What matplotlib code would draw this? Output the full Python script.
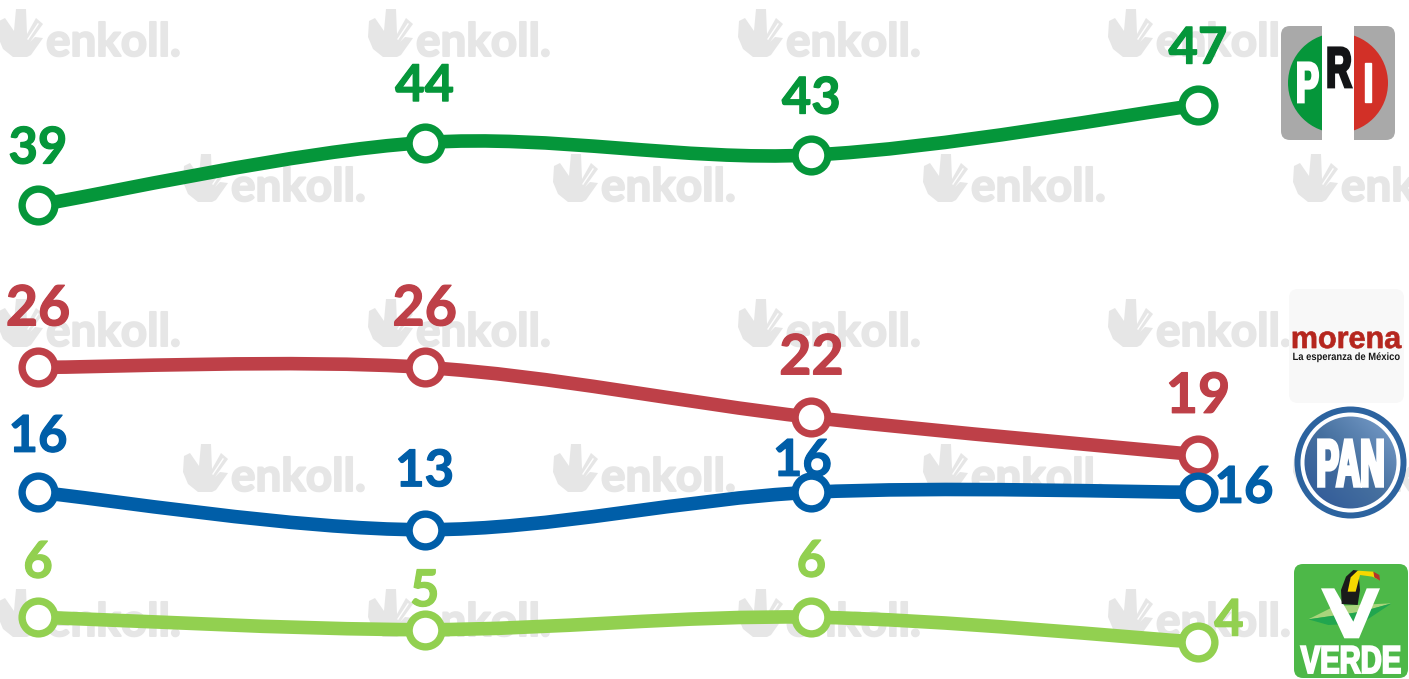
import matplotlib
matplotlib.use("Agg")
import numpy as np
import matplotlib.pyplot as plt
from matplotlib.path import Path
from matplotlib.patches import PathPatch, Polygon, Circle, Wedge, Rectangle, FancyBboxPatch
from matplotlib.patheffects import AbstractPathEffect, withStroke
from matplotlib.colors import LinearSegmentedColormap
from matplotlib.transforms import Affine2D

W, H = 1409, 679
periods = [0, 1, 2, 3]
pri = [39, 44, 43, 47]
morena = [26, 26, 22, 19]
pan = [16, 13, 16, 16]
verde = [6, 5, 6, 4]

PRI_C, MOR_C, PAN_C, VER_C = "#05963A", "#BE4048", "#005EA8", "#92D050"
WM_C = "#E6E6E6"

fig = plt.figure(figsize=(W / 100, H / 100), dpi=100, facecolor="white")
ax = fig.add_axes([0, 0, 1, 1], zorder=2)
ax.set_xlim(-38 / 386.67, (W - 38) / 386.67)
ax.set_ylim(39 - (679 - 205) / 12.49, 39 + 205 / 12.49)
ax.axis("off")
ax.patch.set_alpha(0)

px = fig.add_axes([0, 0, 1, 1], zorder=1)
px.set_xlim(0, W)
px.set_ylim(H, 0)
px.axis("off")


class HScale(AbstractPathEffect):
    def __init__(self, sx, x0, stroke=0.0):
        super().__init__()
        self.sx, self.x0, self.stroke = sx, x0, stroke

    def draw_path(self, renderer, gc, tpath, affine, rgbFace=None):
        t = affine + Affine2D().translate(-self.x0, 0).scale(self.sx, 1).translate(self.x0, 0)
        gc0 = renderer.new_gc()
        gc0.copy_properties(gc)
        if self.stroke:
            gc0.set_foreground(rgbFace)
            gc0.set_linewidth(self.stroke)
            gc0.set_joinstyle("miter")
        renderer.draw_path(gc0, tpath, t, rgbFace)
        gc0.restore()


def stext(x, y, s, size, color, sx=1.0, stroke=0.0, family="Liberation Sans", zorder=7):
    x0 = px.transData.transform((x, y))[0]
    return px.text(x, y, s, fontsize=size, color=color, family=family, weight="bold",
                   ha="center", va="baseline", zorder=zorder,
                   path_effects=[HScale(sx, x0, stroke)])


# watermark
mark = [(18, 0), (28, 0), (29, 25), (38, 9), (45, 15), (32, 33), (37, 28), (45, 29), (33, 46),
        (29, 48), (15, 48), (5, 40), (0, 28), (1, 12), (7, 9), (16, 22)]
for r, dy in enumerate([0, 145, 290, 435, 580]):
    for k in range(-1, 4):
        x0 = (-2 if r % 2 == 0 else 183) + 370 * k
        if x0 < -50 or x0 > W:
            continue
        px.add_patch(Polygon([(x0 + a, 9 + dy + b) for a, b in mark], fc=WM_C, ec="none", zorder=1))
        px.plot([x0 + 30, x0 + 40], [9 + dy + 30, 9 + dy + 15], color="white", lw=1.0, zorder=1.1)
        px.text(x0 + 48, 56 + dy, "enkoll.", fontsize=33, color=WM_C, family="Lato",
                weight="bold", ha="left", va="baseline", zorder=1,
                path_effects=[withStroke(linewidth=1.4, foreground=WM_C)])


def smooth(x, y):
    pts = list(zip(x, y))
    verts, codes = [pts[0]], [Path.MOVETO]
    n = len(pts)
    for i in range(n - 1):
        p0 = pts[max(i - 1, 0)]
        p1, p2 = pts[i], pts[i + 1]
        p3 = pts[min(i + 2, n - 1)]
        c1 = (p1[0] + (p2[0] - p0[0]) / 6, p1[1] + (p2[1] - p0[1]) / 6)
        c2 = (p2[0] - (p3[0] - p1[0]) / 6, p2[1] - (p3[1] - p1[1]) / 6)
        verts += [c1, c2, p2]
        codes += [Path.CURVE4] * 3
    return Path(verts, codes)


P = 0.72
series = [
    (pri, PRI_C, 36.5, [(0, 56), (0, 56), (0, 56), (0, 56)]),
    (morena, MOR_C, 40, [(0, 58), (0, 58), (0, 59), (0, 58)]),
    (pan, PAN_C, 36.5, [(0, 55), (0, 58), (-9, 31), (46, 4)]),
    (verde, VER_C, 36.5, [(0, 54), (0, 38), (0, 55), (31, 21)]),
]
for vals, col, fs, offs in series:
    ax.add_patch(PathPatch(smooth(periods, vals), fc="none", ec=col, lw=9.8, capstyle="butt", zorder=3))
    ax.plot(periods, vals, ls="none", marker="o", ms=23.6, mew=5.3, mfc="white", mec=col, zorder=4)
    for xv, v, (dx, dy) in zip(periods, vals, offs):
        ax.annotate(str(v), (xv, v), xytext=(dx * P, dy * P), textcoords="offset points",
                    ha="center", va="center", fontsize=fs, color=col, family="Lato",
                    weight="bold", zorder=5,
                    path_effects=[withStroke(linewidth=0.9, foreground=col)])


def rbox(x0, y0, x1, y1, r, color, z=2):
    px.add_patch(FancyBboxPatch((x0 + r, y0 + r), x1 - x0 - 2 * r, y1 - y0 - 2 * r,
                                boxstyle=f"round,pad={r},rounding_size={r}", fc=color, ec="none", zorder=z))


# PRI logo
rbox(1281, 26, 1395, 140, 9, "#A9A9A9")
px.add_patch(Wedge((1338, 83), 50, 90, 270, fc="#05963A", ec="none", zorder=3))
px.add_patch(Wedge((1338, 83), 50, -90, 90, fc="#D23027", ec="none", zorder=3))
px.add_patch(Rectangle((1322, 26), 32, 114, fc="white", ec="none", zorder=3))
stext(1307.5, 102, "P", 41, "white", 0.6, 2.0)
stext(1339, 87, "R", 41, "#131416", 0.62, 2.0)
stext(1368, 102, "I", 41, "white", 0.62, 1.0)

# morena logo
rbox(1289, 289, 1404, 403, 9, "#F8F8F8")
stext(1346, 348, "morena", 22, "#B5261E", 1.0, 0.5)
stext(1346, 360, "La esperanza de México", 7.6, "#1A1A1A", 0.89)

# PAN logo
px.add_patch(Circle((1350.5, 462.5), 56, fc="#2C639F", ec="none", zorder=2))
px.add_patch(Circle((1350.5, 462.5), 50, fc="white", ec="none", zorder=3))
cm = LinearSegmentedColormap.from_list("pan", ["#2E5798", "#46709F", "#7CA0CC"])
grad = np.add.outer(np.linspace(0, 0.5, 64), np.linspace(0, 0.5, 64))[::-1]
im = px.imshow(grad, cmap=cm, extent=(1304, 1397, 509, 416), aspect="auto", zorder=3.5, vmin=0, vmax=1)
im.set_clip_path(Circle((1350.5, 462.5), 46, transform=px.transData))
px.set_xlim(0, W)
px.set_ylim(H, 0)
stext(1350.5, 486, "PAN", 48, "white", 0.5, 2.5)

# VERDE logo
def Z(x, y):
    return (1285 + x / 3, 560 + y / 3)

rbox(1294, 564, 1408, 678, 9, "#4DB848")
px.add_patch(Polygon([Z(70, 178), Z(150, 138), Z(320, 130), Z(230, 155)], fc="#A9D47C", ec="none", zorder=3))
px.add_patch(Polygon([Z(70, 178), Z(230, 155), Z(320, 130), Z(230, 190), Z(130, 195)], fc="#21A64F", ec="none", zorder=3))
px.add_patch(Polygon([Z(108, 85), Z(148, 85), Z(205, 185), Z(245, 85), Z(285, 85),
                      Z(222, 235), Z(178, 235)], fc="white", ec="none", zorder=4))
px.add_patch(Polygon([Z(170, 132), Z(168, 90), Z(183, 50), Z(205, 30), Z(220, 32), Z(225, 90), Z(218, 135)],
                     fc="#1A1A1A", ec="none", zorder=5))
px.add_patch(Polygon([Z(188, 95), Z(197, 52), Z(218, 32), Z(265, 35), Z(283, 60), Z(262, 50),
                      Z(225, 45), Z(212, 95)], fc="#F5D800", ec="none", zorder=6))
px.add_patch(Polygon([Z(265, 35), Z(283, 45), Z(285, 62), Z(268, 52)], fc="#B5332A", ec="none", zorder=6))
stext(1351, 673, "VERDE", 28, "white", 0.75, 1.4)

fig.savefig("out.png", dpi=100, facecolor="white")
